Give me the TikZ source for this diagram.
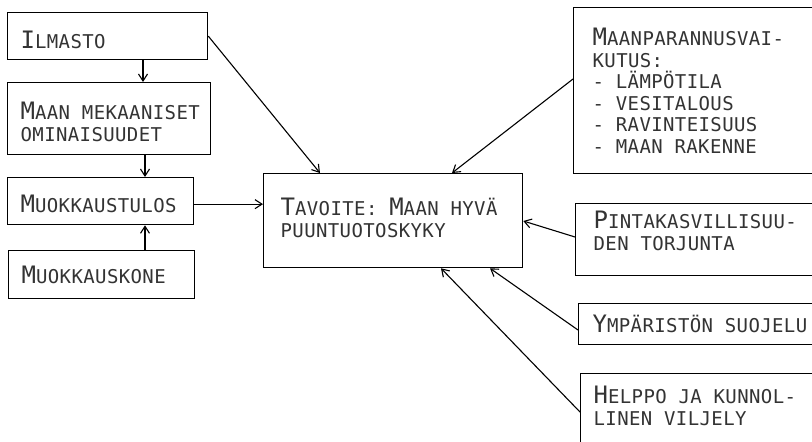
\documentclass[tikz,border=0pt]{standalone}
\usepackage{fontspec}
\setmainfont{DejaVu Sans Mono}[LetterSpace=2]
\usetikzlibrary{arrows.meta,calc}

% larger initial of the small-caps lettering
\newcommand\Ini[1]{{\fontsize{24}{21.5}\selectfont #1}}
\newcommand\boxfont{\fontsize{19}{21.5}\selectfont}

\begin{document}
\begin{tikzpicture}[x=1pt, y=-1pt,
    box/.style={draw, line width=1.3pt, anchor=north west, align=left,
      inner xsep=13pt, inner ysep=0pt, text=black!80, font=\boxfont,
      execute at begin node={\spaceskip=11.8pt\relax}},
    arr/.style={-{Straight Barb[length=7pt,width=9pt]}, line width=1.1pt}]
  \useasboundingbox (0,0) rectangle (812,442);

  % left column
  \node[box, text width=174pt, text height=25pt, minimum height=47pt] (ilm) at (7,12) {\Ini{I}LMASTO};
  \node[box, text width=177pt, text height=23.5pt, minimum height=72pt] (mek) at (7,82) {\mbox{\Ini{M}AAN MEKAANISET}\\OMINAISUUDET};
  \node[box, text width=160pt, text height=23.5pt, minimum height=47pt] (tul) at (7,177) {\Ini{M}UOKKAUSTULOS};
  \node[box, text width=160pt, minimum height=48pt] (kone) at (8,250) {\Ini{M}UOKKAUSKONE};

  % goal
  \node[box, inner xsep=17pt, text width=225pt, text depth=27.5pt, minimum height=94pt] (goal) at (263,173)
    {\Ini{T}AVOITE: \Ini{M}AAN HYVÄ\\PUUNTUOTOSKYKY};

  % right column, running off the page
  \node[box, inner xsep=19pt, text width=240pt, minimum height=166pt] (vai) at (573,7)
    {\Ini{M}AANPARANNUSVAI-\\KUTUS:\\- LÄMPÖTILA\\- VESITALOUS\\- RAVINTEISUUS\\- MAAN RAKENNE};
  \node[box, inner xsep=18pt, text width=240pt, text depth=39.5pt, minimum height=72pt] (tor) at (575,203)
    {\Ini{P}INTAKASVILLISUU-\\DEN TORJUNTA};
  \node[box, inner xsep=14pt, text width=240pt, minimum height=41pt] (suo) at (578,303)
    {\Ini{Y}MPÄRISTÖN SUOJELU};
  \node[box, inner xsep=13pt, text width=240pt, text depth=47.5pt, minimum height=90pt] (vil) at (580,373)
    {\Ini{H}ELPPO JA KUNNOL-\\LINEN VILJELY};

  \draw[arr] ($(ilm.south west)+(136,0)$) -- ($(mek.north west)+(136,0)$);
  \draw[arr] ($(mek.south west)+(138,0)$) -- ($(tul.north west)+(138,0)$);
  \draw[arr] ($(kone.north west)+(137,0)$) -- ($(tul.south west)+(138,0)$);
  \draw[arr] (ilm.east) -- ($(goal.north west)+(57,0)$);
  \coordinate (tulr) at ($(tul.east)+(0,3)$);
  \draw[arr] (tulr) -- (tulr -| goal.west);

  \draw[arr] ($(vai.north west)+(0,72)$) -- ($(goal.north west)+(189,0)$);
  \draw[arr] ($(tor.north west)+(0,34)$) -- ($(goal.north east)+(0,48)$);
  \draw[arr] ($(suo.north west)+(0,27)$) -- ($(goal.south west)+(227,0)$);
  \draw[arr] ($(vil.north west)+(0,39)$) -- ($(goal.south west)+(178,0)$);
\end{tikzpicture}
\end{document}
